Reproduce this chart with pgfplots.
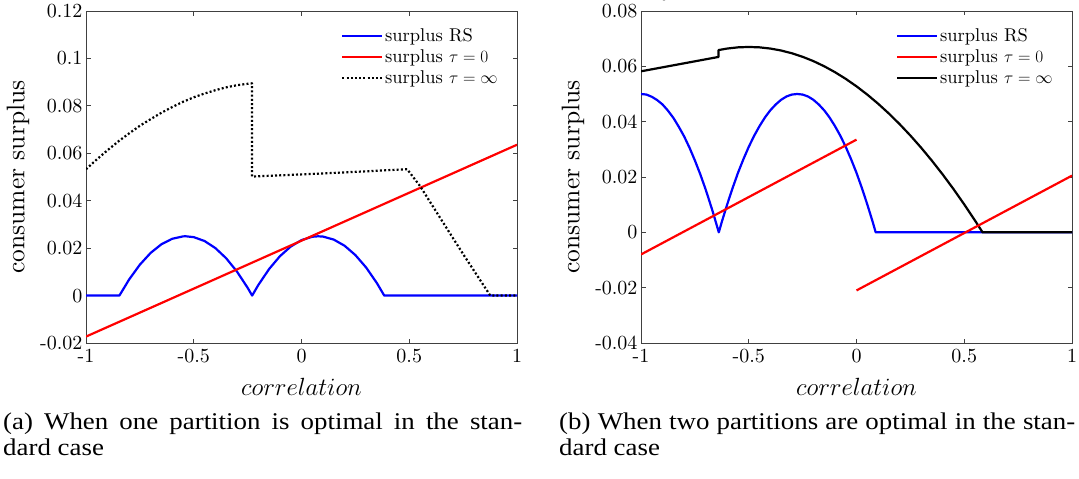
\documentclass[border=0pt]{standalone}
\usepackage{fontspec}
\setmainfont{lmroman10-regular}[Extension=.otf, ItalicFont=lmroman10-italic, BoldFont=lmroman10-bold]
\usepackage{pgfplots}
\pgfplotsset{compat=1.18}
\newfontfamily\capfont{Liberation Serif}[FakeStretch=1.12]
\definecolor{mblue}{rgb}{0,0,1}
\definecolor{mred}{rgb}{1,0,0}
\pgfplotsset{
  mystyle/.style={
    width=431pt, height=332pt, scale only axis,
    anchor=south west,
    xmin=-1, xmax=1,
    xtick={-1,-0.5,0,0.5,1},
    xticklabels={-1,-0.5,0,0.5,1},
    tick align=inside,
    major tick length=4.5pt,
    axis line style={black!75, line width=0.8pt},
    tick style={black!75, line width=0.8pt},
    tick label style={font=\fontsize{20}{24}\selectfont},
    xticklabel style={yshift=-3pt},
    label style={font=\fontsize{25.5}{30}\selectfont},
    xlabel={$correlation$},
    ylabel={consumer surplus},
    xlabel style={at={(axis description cs:0.5,-0.1596)}, anchor=base},
    ylabel style={at={(axis description cs:-0.158,0.5)}, anchor=center},
    legend cell align=left,
    legend style={draw=none, fill=none, font=\fontsize{18.5}{22}\selectfont,
      anchor=north west, inner sep=0pt, row sep=3.5pt,
      nodes={inner sep=1.5pt}},
    legend image code/.code={\draw[#1] (0pt,0pt) -- (40pt,0pt);},
  },
  blu/.style={color=mblue, line width=2.2pt, line join=round},
  rd/.style={color=mred, line width=2.2pt},
  blk/.style={color=black, line width=2.2pt, line join=round},
}
\begin{document}
\begin{tikzpicture}
\useasboundingbox (0pt,0pt) rectangle (1079pt,-479pt);
% ---------------- left panel
\begin{axis}[mystyle, at={(86pt,-343pt)},
  ymin=-0.02, ymax=0.12,
  ytick={-0.02,0,0.02,0.04,0.06,0.08,0.1,0.12},
  yticklabels={-0.02,0,0.02,0.04,0.06,0.08,0.1,0.12},
  legend style={at={(rel axis cs:0.592,0.952)}}]
\addplot[blu] coordinates {(-1,0) (-0.845,0) (-0.8,0.00677) (-0.75,0.01304) (-0.7,0.01800) (-0.65,0.02164) (-0.6,0.02395) (-0.55,0.02496) (-0.537,0.025) (-0.5,0.02464) (-0.45,0.02301) (-0.4,0.02005) (-0.35,0.01578) (-0.3,0.01020) (-0.25,0.00329) (-0.229,0)
 (-0.2,0.00451) (-0.15,0.01123) (-0.1,0.01662) (-0.05,0.02067) (0,0.02340) (0.05,0.02480) (0.0775,0.025) (0.1,0.02487) (0.15,0.02360) (0.2,0.02101) (0.25,0.01708) (0.3,0.01183) (0.35,0.00524) (0.384,0) (1,0)};
\addlegendentry{surplus RS}
\addplot[rd] coordinates {(-1,-0.0173) (1,0.0636)};
\addlegendentry{surplus $\tau=0$}
\addplot[blk, line cap=butt, dash pattern=on 2pt off 2.2pt] coordinates {(-1,0.0533) (-0.95,0.0574) (-0.9,0.0613) (-0.85,0.0650) (-0.8,0.0684) (-0.75,0.0716) (-0.7,0.0744) (-0.65,0.0771) (-0.6,0.0795) (-0.55,0.0817) (-0.5,0.0836) (-0.45,0.0852) (-0.4,0.0866) (-0.35,0.0878) (-0.3,0.0887) (-0.25,0.0893) (-0.23,0.0895)
 (-0.23,0.0502) (-0.1,0.0507) (0.1,0.0515) (0.3,0.0524) (0.49,0.0533) (0.55,0.0462) (0.65,0.0318) (0.75,0.0175) (0.876,0) (1,0)};
\addlegendentry{surplus $\tau=\infty$}
\end{axis}
% ---------------- right panel
\begin{axis}[mystyle, at={(641pt,-343pt)},
  ymin=-0.04, ymax=0.08,
  ytick={-0.04,-0.02,0,0.02,0.04,0.06,0.08},
  yticklabels={-0.04,-0.02,0,0.02,0.04,0.06,0.08},
  legend style={at={(rel axis cs:0.592,0.952)}}]
\addplot[blu] coordinates {(-1,0.05) (-0.975,0.0498) (-0.95,0.0490) (-0.925,0.0478) (-0.9,0.0462) (-0.875,0.0440) (-0.85,0.0414) (-0.825,0.0382) (-0.8,0.0347) (-0.775,0.0306) (-0.75,0.0260) (-0.725,0.0210) (-0.7,0.0155) (-0.69,0.0131) (-0.67,0.0082) (-0.66,0.0056) (-0.639,0)
 (-0.625,0.0038) (-0.6,0.0101) (-0.575,0.0160) (-0.55,0.0215) (-0.525,0.0264) (-0.5,0.0309) (-0.475,0.0349) (-0.45,0.0384) (-0.425,0.0415) (-0.4,0.0441) (-0.375,0.0462) (-0.35,0.0479) (-0.325,0.0491) (-0.3,0.0498) (-0.275,0.05) (-0.25,0.0498) (-0.225,0.0491) (-0.2,0.0479) (-0.175,0.0462) (-0.15,0.0441) (-0.125,0.0415) (-0.1,0.0384) (-0.075,0.0349) (-0.05,0.0309) (-0.025,0.0264) (0,0.0215) (0.025,0.0160) (0.05,0.0101) (0.075,0.0038) (0.089,0) (1,0)};
\addlegendentry{surplus RS}
\addplot[rd] coordinates {(-1,-0.008) (0,0.0335)};
\addlegendentry{surplus $\tau=0$}
\addplot[blk] coordinates {(-1,0.0582) (-0.64,0.0634) (-0.64,0.06588) (-0.6,0.06643) (-0.55,0.06686) (-0.5,0.067) (-0.45,0.06686) (-0.4,0.06643) (-0.35,0.06572) (-0.3,0.06472) (-0.25,0.06344) (-0.2,0.06188) (-0.15,0.06003) (-0.1,0.05789) (-0.05,0.05547) (0,0.05277) (0.05,0.04978) (0.1,0.04651) (0.15,0.04295) (0.2,0.03911) (0.25,0.03499) (0.3,0.03058) (0.35,0.02588) (0.4,0.02090) (0.45,0.01564) (0.5,0.01008) (0.55,0.00425) (0.585,0) (1,0)};
\addlegendentry{surplus $\tau=\infty$}
\addplot[rd, forget plot] coordinates {(0,-0.021) (1,0.0205)};
\end{axis}
% ---------------- captions
\node[anchor=base west, inner sep=0pt] at (3pt,-429pt) {\capfont\fontsize{24}{28}\selectfont\makebox[519pt][s]{(a) When one partition is optimal in the stan-}};
\node[anchor=base west, inner sep=0pt] at (3pt,-455pt) {\capfont\fontsize{24}{28}\selectfont dard case};
\node[anchor=base west, inner sep=0pt] at (559pt,-429pt) {\capfont\fontsize{24}{28}\selectfont\makebox[516pt][s]{(b) When two partitions are optimal in the stan-}};
\node[anchor=base west, inner sep=0pt] at (559pt,-455pt) {\capfont\fontsize{24}{28}\selectfont dard case};
\end{tikzpicture}
\end{document}
